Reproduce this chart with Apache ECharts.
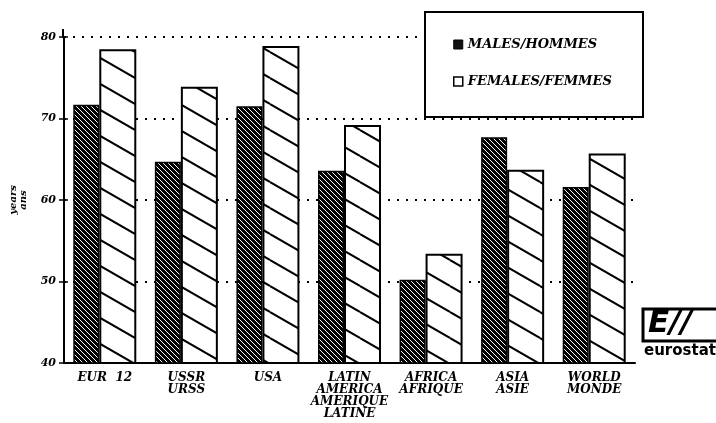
<!DOCTYPE html>
<html>
<head>
<meta charset="utf-8">
<script src="https://cdn.jsdelivr.net/npm/echarts@6/dist/echarts.min.js"></script>
<style>
  html, body { margin: 0; padding: 0; background: #fff; }
  #chart { width: 716px; height: 423px; }
</style>
</head>
<body>
<div id="chart"></div>
<script>
var categories = ['EUR  12', 'USSR\nURSS', 'USA', 'LATIN\nAMERICA\nAMERIQUE\nLATINE', 'AFRICA\nAFRIQUE', 'ASIA\nASIE', 'WORLD\nMONDE'];
var males = [71.7, 64.7, 71.5, 63.6, 50.2, 67.7, 61.6];
var females = [78.5, 73.9, 78.9, 69.2, 53.4, 63.7, 65.7];
var seriesNames = ['MALES/HOMMES', 'FEMALES/FEMMES'];

(function() {
  var ink = '#000';
  var font = '"DejaVu Serif", serif';

  // hatch tiles for the bars ("\" direction)
  function hatch(bg, fg, w, h, lw) {
    var c = document.createElement('canvas');
    c.width = w; c.height = h;
    var g = c.getContext('2d');
    g.fillStyle = bg;
    g.fillRect(0, 0, w, h);
    g.strokeStyle = fg;
    g.lineWidth = lw;
    [[0, 0], [-w, 0], [w, 0], [0, -h], [0, h]].forEach(function(o) {
      g.beginPath();
      g.moveTo(o[0], o[1]);
      g.lineTo(o[0] + w, o[1] + h);
      g.stroke();
    });
    return { image: c, repeat: 'repeat' };
  }
  var darkHatch = hatch('#000', '#fff', 5, 5, 1);
  var lightHatch = hatch('#fff', '#000', 45, 26, 2);

  var chart = echarts.init(document.getElementById('chart'), null, { renderer: 'canvas' });

  var yCommon = {
    type: 'value', min: 40, max: 80, interval: 10
  };

  var option = {
    animation: false,
    backgroundColor: '#fff',
    grid: { left: 63, right: 81, top: 37, bottom: 60 },
    legend: {
      data: [
        { name: seriesNames[0], icon: 'rect', itemStyle: { color: '#111', borderColor: ink, borderWidth: 1 } },
        { name: seriesNames[1], icon: 'rect', itemStyle: { color: '#fff', borderColor: ink, borderWidth: 1.5 } }
      ],
      orient: 'vertical',
      left: 448, top: 33,
      itemWidth: 9, itemHeight: 9,
      itemGap: 24,
      z: 10,
      textStyle: { color: ink, fontFamily: font, fontStyle: 'italic', fontWeight: 'bold', fontSize: 13 }
    },
    xAxis: [{
      type: 'category',
      data: categories,
      axisLine: { lineStyle: { color: ink, width: 2 } },
      axisTick: { length: 5, lineStyle: { color: ink, width: 1.5 } },
      axisLabel: {
        interval: 0,
        color: ink, fontFamily: font, fontStyle: 'italic', fontWeight: 'bold',
        fontSize: 12, lineHeight: 12, margin: 9
      }
    }, {
      type: 'category',
      data: categories,
      position: 'bottom',
      axisLine: { show: false },
      axisTick: { inside: true, length: 4, lineStyle: { color: ink, width: 1.5 } },
      axisLabel: { show: false }
    }],
    yAxis: [Object.assign({}, yCommon, {
      name: 'years\nans',
      nameLocation: 'middle',
      nameGap: 36,
      nameTextStyle: { color: ink, fontFamily: font, fontStyle: 'italic', fontWeight: 'bold', fontSize: 10, lineHeight: 10 },
      axisLine: { show: true, lineStyle: { color: ink, width: 2 } },
      axisTick: { show: true, length: 5, lineStyle: { color: ink, width: 1.5 } },
      axisLabel: { color: ink, fontFamily: font, fontStyle: 'italic', fontWeight: 'bold', fontSize: 11, margin: 8 },
      splitLine: { show: true, lineStyle: { color: ink, width: 2, type: [2, 7] } }
    }), Object.assign({}, yCommon, {
      position: 'left',
      axisLine: { show: false },
      axisTick: { show: true, inside: true, length: 4, lineStyle: { color: ink, width: 1.5 } },
      axisLabel: { show: false },
      splitLine: { show: false }
    })],
    graphic: [
      { type: 'line', z: 5, shape: { x1: 63, y1: 29, x2: 63, y2: 38 }, style: { stroke: ink, lineWidth: 2 } },
      { type: 'rect', z: 5, shape: { x: 425, y: 12, width: 218, height: 105 },
        style: { fill: '#fff', stroke: ink, lineWidth: 2 } },
      { type: 'rect', z: 5, shape: { x: 643, y: 309, width: 80, height: 32 },
        style: { fill: '#fff', stroke: ink, lineWidth: 3 } },
      { type: 'text', z: 6, left: 648, top: 308,
        style: { text: 'E//', fill: ink, font: 'italic bold 31px "DejaVu Sans"' } },
      { type: 'text', z: 6, left: 644, top: 344,
        style: { text: 'eurostat', fill: ink, font: 'bold 15px "DejaVu Sans"' } }
    ],
    series: [{
      name: seriesNames[0],
      type: 'bar',
      data: males,
      barWidth: 26,
      barGap: '0%',
      itemStyle: { color: darkHatch, borderColor: ink, borderWidth: 1.5 }
    }, {
      name: seriesNames[1],
      type: 'bar',
      data: females,
      barWidth: 37,
      barGap: '0%',
      itemStyle: { color: lightHatch, borderColor: ink, borderWidth: 2 }
    }]
  };

  chart.setOption(option);
  window.addEventListener('resize', function() { chart.resize(); });
})();
</script>
</body>
</html>
